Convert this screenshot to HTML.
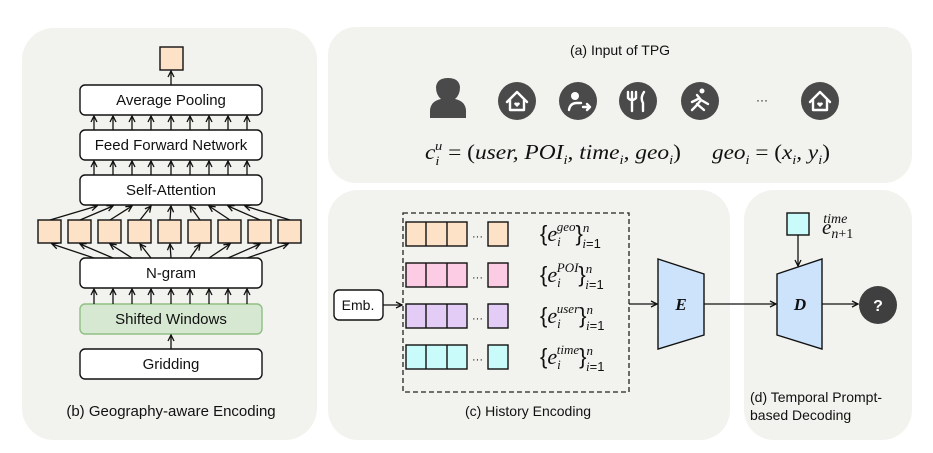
<!DOCTYPE html>
<html><head><meta charset="utf-8"><style>
html,body{margin:0;padding:0;background:#fff;}
svg{display:block;}
text{font-family:"Liberation Sans",sans-serif;fill:#111;}
.m{font-family:"Liberation Serif",serif;font-style:italic;}
.r{font-family:"Liberation Serif",serif;font-style:normal;}
</style></head><body>
<svg width="933" height="453" viewBox="0 0 933 453" xmlns="http://www.w3.org/2000/svg">
<defs>
<marker id="ah" markerWidth="8" markerHeight="8" refX="7" refY="4" orient="auto" markerUnits="userSpaceOnUse">
<path d="M1,1 L7,4 L1,7" fill="none" stroke="#111" stroke-width="1.3"/>
</marker>
</defs>
<rect x="22" y="28" width="295" height="412" rx="32" fill="#f2f2ee"/>
<rect x="328" y="27" width="584" height="156" rx="28" fill="#f2f2ee"/>
<rect x="328" y="190" width="402" height="250" rx="30" fill="#f2f2ee"/>
<rect x="744" y="190" width="168" height="250" rx="30" fill="#f2f2ee"/>

<g stroke="#111" stroke-width="1.4">
<rect x="160" y="47" width="23" height="23" fill="#fde2c8"/>
<rect x="80" y="85" width="182" height="30" rx="5" fill="#fff"/>
<rect x="80" y="130" width="182" height="30" rx="5" fill="#fff"/>
<rect x="80" y="175" width="182" height="30" rx="5" fill="#fff"/>
<rect x="80" y="258" width="182" height="30" rx="5" fill="#fff"/>
<rect x="80" y="304" width="182" height="30" rx="5" fill="#d6e8d2" stroke="#8fbf83"/>
<rect x="80" y="349" width="182" height="30" rx="5" fill="#fff"/>
</g>
<g stroke="#111" stroke-width="1.4" fill="#fde2c8">
<rect x="38" y="220" width="23" height="23"/><rect x="68" y="220" width="23" height="23"/>
<rect x="98" y="220" width="23" height="23"/><rect x="128" y="220" width="23" height="23"/>
<rect x="158" y="220" width="23" height="23"/><rect x="188" y="220" width="23" height="23"/>
<rect x="218" y="220" width="23" height="23"/><rect x="248" y="220" width="23" height="23"/>
<rect x="278" y="220" width="23" height="23"/>
</g>
<g stroke="#111" stroke-width="1.3" marker-end="url(#ah)">
<line x1="171" y1="85" x2="171" y2="71"/>
<line x1="171" y1="349" x2="171" y2="335"/>
<line x1="94" y1="130" x2="94" y2="116"/><line x1="113" y1="130" x2="113" y2="116"/>
<line x1="132" y1="130" x2="132" y2="116"/><line x1="151" y1="130" x2="151" y2="116"/>
<line x1="171" y1="130" x2="171" y2="116"/><line x1="190" y1="130" x2="190" y2="116"/>
<line x1="209" y1="130" x2="209" y2="116"/><line x1="228" y1="130" x2="228" y2="116"/>
<line x1="247" y1="130" x2="247" y2="116"/>
<line x1="94" y1="175" x2="94" y2="161"/><line x1="113" y1="175" x2="113" y2="161"/>
<line x1="132" y1="175" x2="132" y2="161"/><line x1="151" y1="175" x2="151" y2="161"/>
<line x1="171" y1="175" x2="171" y2="161"/><line x1="190" y1="175" x2="190" y2="161"/>
<line x1="209" y1="175" x2="209" y2="161"/><line x1="228" y1="175" x2="228" y2="161"/>
<line x1="247" y1="175" x2="247" y2="161"/>
<line x1="94" y1="304" x2="94" y2="289"/><line x1="113" y1="304" x2="113" y2="289"/>
<line x1="132" y1="304" x2="132" y2="289"/><line x1="151" y1="304" x2="151" y2="289"/>
<line x1="171" y1="304" x2="171" y2="289"/><line x1="190" y1="304" x2="190" y2="289"/>
<line x1="209" y1="304" x2="209" y2="289"/><line x1="228" y1="304" x2="228" y2="289"/>
<line x1="247" y1="304" x2="247" y2="289"/>
<line x1="50" y1="220" x2="97" y2="206"/><line x1="80" y1="220" x2="113" y2="206"/>
<line x1="110" y1="220" x2="132" y2="206"/><line x1="140" y1="220" x2="151" y2="206"/>
<line x1="170" y1="220" x2="171" y2="206"/><line x1="200" y1="220" x2="190" y2="206"/>
<line x1="230" y1="220" x2="209" y2="206"/><line x1="260" y1="220" x2="228" y2="206"/>
<line x1="290" y1="220" x2="245" y2="206"/>
<line x1="94" y1="258" x2="52" y2="244"/><line x1="113" y1="258" x2="80" y2="244"/>
<line x1="132" y1="258" x2="110" y2="244"/><line x1="151" y1="258" x2="140" y2="244"/>
<line x1="171" y1="258" x2="170" y2="244"/><line x1="190" y1="258" x2="200" y2="244"/>
<line x1="209" y1="258" x2="230" y2="244"/><line x1="228" y1="258" x2="260" y2="244"/>
<line x1="247" y1="258" x2="288" y2="244"/>
</g>
<g font-size="15" text-anchor="middle">
<text x="171" y="105">Average Pooling</text>
<text x="171" y="150">Feed Forward Network</text>
<text x="171" y="195">Self-Attention</text>
<text x="171" y="278">N-gram</text>
<text x="171" y="324">Shifted Windows</text>
<text x="171" y="369">Gridding</text>
<text x="171" y="416">(b) Geography-aware Encoding</text>
</g>

<text x="620" y="55" font-size="14" text-anchor="middle">(a) Input of TPG</text>
<g fill="#4a4a4a">
<path d="M430,118 L430,110 Q431,101 441,99 Q436,95 436,87 Q437,78 448,78 Q459,78 460,87 Q460,95 455,99 Q465,101 466,110 L466,118 Z"/>
<circle cx="517" cy="101" r="19"/><circle cx="578" cy="101" r="19"/>
<circle cx="638" cy="101" r="19"/><circle cx="700" cy="101" r="19"/>
<circle cx="820" cy="101" r="19"/>
</g>
<g stroke="#fff" stroke-width="2.4" fill="none" stroke-linecap="round" stroke-linejoin="round">
<path d="M507,102 L517,92 L527,102 M510,100 L510,110 L524,110 L524,100"/>
<path d="M810,102 L820,92 L830,102 M813,100 L813,110 L827,110 L827,100"/>
<path d="M632,92 L632,111 M628,92 L628,98 Q632,102 636,98 L636,92 M644,92 Q640,98 643,103 L643,111"/>
<path d="M569,110 Q570,103 577,103 L581,103 M583,107 L590,107 M587,104 L590,107 L587,110"/>
<path d="M697,95 L701,100 L696,106 L692,110 M701,100 L708,104 M698,99 L692,102 M697,104 L704,110"/>
</g>
<g fill="#fff"><circle cx="575" cy="96" r="4"/><circle cx="702" cy="91" r="2.5"/>
<path d="M514,104 a1.7,1.7 0 0 1 3,-1 a1.7,1.7 0 0 1 3,1 l-3,3 z"/>
<path d="M817,104 a1.7,1.7 0 0 1 3,-1 a1.7,1.7 0 0 1 3,1 l-3,3 z"/></g>
<text x="762" y="104" font-size="12" text-anchor="middle">···</text>
<text x="425" y="159" font-size="21" class="m" textLength="256" lengthAdjust="spacingAndGlyphs">c<tspan font-size="13" dy="6">i</tspan><tspan font-size="13" dx="-4" dy="-15">u</tspan><tspan class="r" dy="9"> = (</tspan>user, POI<tspan font-size="13" dy="5">i</tspan><tspan dy="-5">, time</tspan><tspan font-size="13" dy="5">i</tspan><tspan dy="-5">, geo</tspan><tspan font-size="13" dy="5">i</tspan><tspan class="r" dy="-5">)</tspan></text>
<text x="712" y="159" font-size="21" class="m" textLength="118" lengthAdjust="spacingAndGlyphs">geo<tspan font-size="13" dy="5">i</tspan><tspan class="r" dy="-5"> = (</tspan>x<tspan font-size="13" dy="5">i</tspan><tspan dy="-5">, y</tspan><tspan font-size="13" dy="5">i</tspan><tspan class="r" dy="-5">)</tspan></text>

<rect x="403" y="213" width="226" height="179" fill="none" stroke="#222" stroke-width="1.3" stroke-dasharray="5,3"/>
<rect x="334" y="290" width="49" height="30" rx="5" fill="#fff" stroke="#111" stroke-width="1.4"/>
<text x="358" y="310" font-size="14" text-anchor="middle">Emb.</text>
<g stroke="#111" stroke-width="1.4">
<g fill="#fde2c8"><rect x="406" y="222" width="61" height="24"/><rect x="488" y="222" width="20" height="24"/></g>
<g fill="#fccce4"><rect x="406" y="263" width="61" height="24"/><rect x="488" y="263" width="20" height="24"/></g>
<g fill="#e3cdf7"><rect x="406" y="304" width="61" height="24"/><rect x="488" y="304" width="20" height="24"/></g>
<g fill="#c9fbfb"><rect x="406" y="345" width="61" height="24"/><rect x="488" y="345" width="20" height="24"/></g>
<path d="M426,222v24M447,222v24M426,263v24M447,263v24M426,304v24M447,304v24M426,345v24M447,345v24"/>
</g>
<g font-size="11"><text x="472" y="240">···</text><text x="472" y="281">···</text><text x="472" y="322">···</text><text x="472" y="363">···</text></g>
<g font-size="22" class="r">
<text x="540" y="241">{<tspan class="m">e</tspan><tspan class="m" font-size="13" dy="5">i</tspan><tspan class="m" font-size="13" dx="-4" dy="-15">geo</tspan><tspan dy="10">}</tspan><tspan class="m" font-size="13" dy="-9">n</tspan><tspan class="m" font-size="13" dx="-7" dy="16">i</tspan><tspan font-size="13">=1</tspan></text>
<text x="540" y="282">{<tspan class="m">e</tspan><tspan class="m" font-size="13" dy="5">i</tspan><tspan class="m" font-size="13" dx="-4" dy="-15">POI</tspan><tspan dy="10">}</tspan><tspan class="m" font-size="13" dy="-9">n</tspan><tspan class="m" font-size="13" dx="-7" dy="16">i</tspan><tspan font-size="13">=1</tspan></text>
<text x="540" y="323">{<tspan class="m">e</tspan><tspan class="m" font-size="13" dy="5">i</tspan><tspan class="m" font-size="13" dx="-4" dy="-15">user</tspan><tspan dy="10">}</tspan><tspan class="m" font-size="13" dy="-9">n</tspan><tspan class="m" font-size="13" dx="-7" dy="16">i</tspan><tspan font-size="13">=1</tspan></text>
<text x="540" y="364">{<tspan class="m">e</tspan><tspan class="m" font-size="13" dy="5">i</tspan><tspan class="m" font-size="13" dx="-4" dy="-15">time</tspan><tspan dy="10">}</tspan><tspan class="m" font-size="13" dy="-9">n</tspan><tspan class="m" font-size="13" dx="-7" dy="16">i</tspan><tspan font-size="13">=1</tspan></text>
</g>
<text x="528" y="416" font-size="14" text-anchor="middle">(c) History Encoding</text>

<polygon points="658,259 704,274 704,335 658,349" fill="#cce3fb" stroke="#111" stroke-width="1.4"/>
<polygon points="777,274 822,259 822,349 777,335" fill="#cce3fb" stroke="#111" stroke-width="1.4"/>
<text x="681" y="310" font-size="17" class="m" text-anchor="middle" font-weight="bold">E</text>
<text x="800" y="310" font-size="17" class="m" text-anchor="middle" font-weight="bold">D</text>
<rect x="787" y="213" width="22" height="22" fill="#c9fbfb" stroke="#111" stroke-width="1.4"/>
<text x="822" y="234" font-size="21" class="m">e<tspan font-size="14" dy="4">n</tspan><tspan class="r" font-size="14">+1</tspan><tspan font-size="14" dx="-30" dy="-15">time</tspan></text>
<circle cx="878" cy="305" r="19" fill="#3f3f3f"/>
<text x="878" y="311" font-size="16" font-weight="bold" style="fill:#fff" text-anchor="middle">?</text>
<g stroke="#111" stroke-width="1.3" marker-end="url(#ah)">
<line x1="383" y1="305" x2="402" y2="305"/>
<line x1="629" y1="304" x2="657" y2="304"/>
<line x1="704" y1="304" x2="776" y2="304"/>
<line x1="822" y1="304" x2="858" y2="304"/>
<line x1="798" y1="235" x2="798" y2="266"/>
</g>
<text x="750" y="402" font-size="14">(d) Temporal Prompt-</text>
<text x="750" y="420" font-size="14">based Decoding</text>
</svg>
</body></html>
